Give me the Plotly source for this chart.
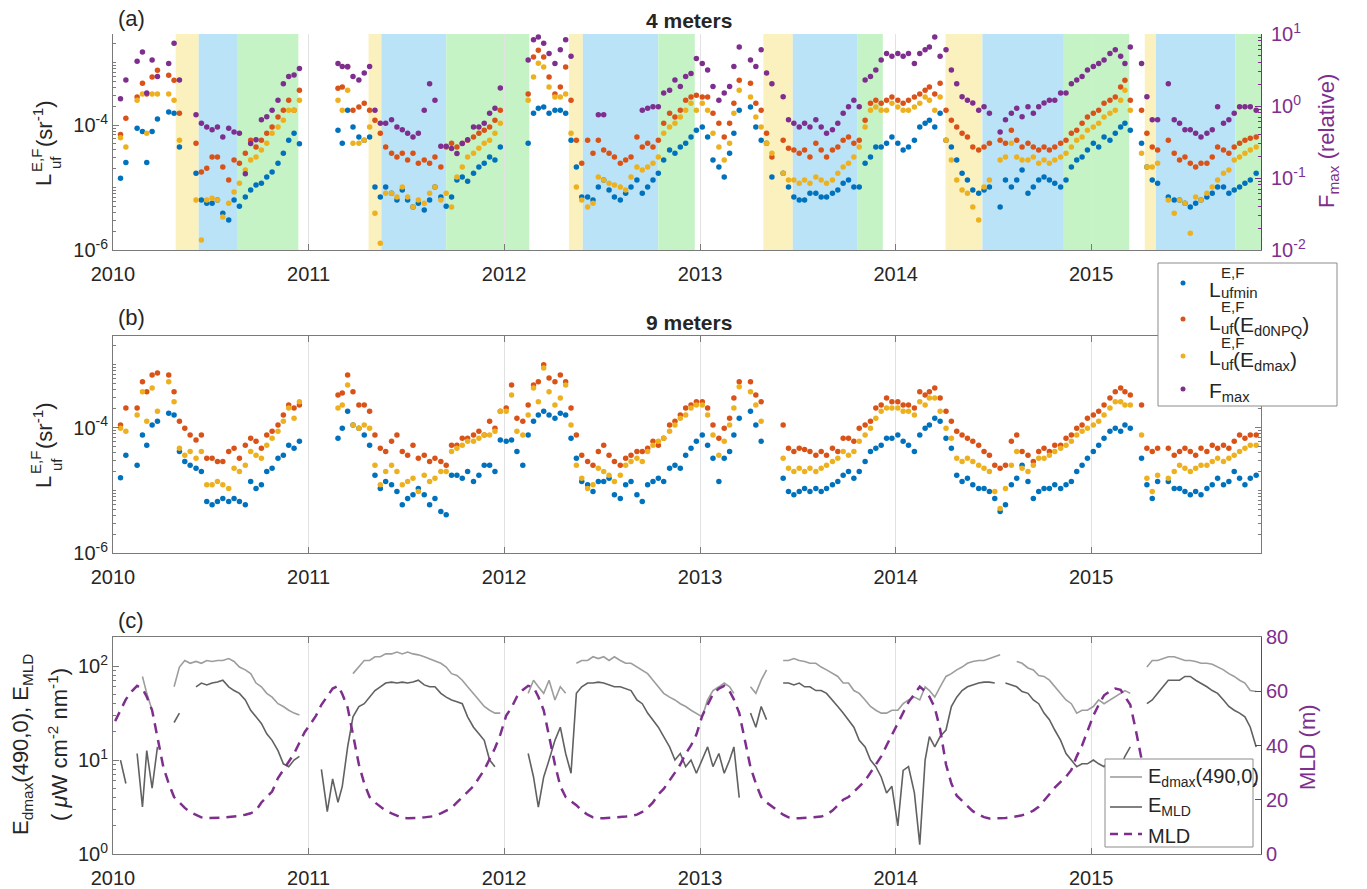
import plotly.graph_objects as go

N = None
# sampling dates: 5th, 15th, 25th of each month, Jan 2010 .. Nov 5 2015
dates = [f"{y}-{m:02d}-{d:02d}" for y in range(2010, 2016) for m in range(1, 13) for d in (5, 15, 25)][:211]

# ---------- panel (a) 4 m : log10 values ----------
lufmin_4m_log10 = [
 N,-4.85,-4.6, N,-4.05,-4.1, -4.6,-4.1,-3.9, N,-3.79,-3.81, -4.35,N,N, -4.77,-5.2,-5.25, -5.25,-5.2,-5.41, -5.52,-5.2,-5.3, -5.15,-5.04,-4.96, -4.93,-4.83,-4.75, -4.61,-4.45,-4.24, -4.13,-4.3,N,
 N,N,N, N,N,-4.08, -4.29,-3.76,-4.03, -4.19,-4.24,-4.19, -4.99,-5.15,-4.99, -5.09,-5.2,-5.04, -5.2,-5.31,-5.25, -5.36,-5.2,-4.99, -5.15,-5.3,-5.15, -4.88,-4.83,-4.9, -4.77,-4.67,-4.61, -4.51,-4.56,-4.35,
 N,N,N, N,-4.29,-3.81, -3.73,-3.71,-3.81, -3.76,-3.76,-3.81, -4.24,-4.67,-5.15, -5.15,-5.2,-4.99, -4.88,-5.04,-5.15, -5.2,-5.09,-4.99, -4.88,-5.09,-4.99, -4.88,-4.77,-4.56, -4.4,-4.45,-4.35, -4.29,-4.19,-4.08,
 -4.03,-4.19,-4.56, -4.67,-4.83,-4.45, -4.13,-3.76,N, -3.71,-4.03,-4.24, -4.29,-4.83,N, -4.77,-4.99,-5.15, -5.2,-5.2,-5.09, -5.09,-5.15,-5.15, -5.09,-5.04,-4.93, -4.88,-4.99,-4.99, -4.61,-4.51,-4.35, -4.35,-4.29,-4.19,
 -4.29,-4.4,-4.35, -4.24,-4.03,-3.97, -3.92,-4.03,-3.81, -4.24,-4.35,-4.56, -4.77,-4.88,-5.04, -5.09,-5.04,-4.99, N,-5.31,-4.88, -4.99,-4.88,-4.72, -5.09,-4.99,-4.88, -4.83,-4.88,-4.93, -4.99,-4.88,-4.67, -4.56,-4.51,-4.4,
 -4.29,-4.35,-4.19, -4.24,-4.13,-4.03, -3.97,-4.08,N, -4.29,-4.67,-4.88, -4.93,N,-5.15, -5.2,-5.2,-5.25, -5.31,-5.25,-5.2, -5.15,-5.09,-4.99, -4.99,-5.09,-5.04, -4.99,-4.93,-4.88, -4.77,
]
luf_d0npq_4m_log10 = [
 N,-4.15,-3.89, N,-3.55,-3.33, -3.5,-3.23,-3.12, N,-3.2,-3.28, -3.81,N,N, -4.29,-4.75,-4.69, -4.51,-4.51,-4.67, -4.88,-4.56,-4.61, -4.45,-4.24,-4.35, -4.24,-4.13,-4.03, -3.87,-3.76,-3.6, -3.76,-3.44,N,
 N,N,N, N,N,-3.41, -3.39,-3.07,-3.76, -3.71,-3.65,-3.76, -3.92,-4.13,-4.35, -4.45,-4.51,-4.45, -4.56,-4.45,-4.61, -4.56,-4.61,-4.51, -4.67,-4.35,-4.29, -4.35,-4.29,-4.24, -4.19,-4.13,-4.08, -4.03,-3.92,-3.76,
 N,N,N, N,-3.5,-2.91, -2.8,-2.91,-3.23, -3.5,-3.39,-3.07, -3.6,-4.24,-4.61, -4.24,-4.45,-4.24, -4.4,-4.45,-4.51, -4.61,-4.56,-4.51, -4.19,-4.35,-4.29, -4.35,-4.24,-3.97, -3.81,-3.87,-3.76, -3.6,-3.55,-3.52,
 -3.55,-3.55,-3.81, -3.97,-4.19,-3.97, -3.65,-3.28,N, -3.33,-3.65,-3.76, -4.13,-4.51,N, -4.24,-4.37,-4.4, -4.45,-4.4,-4.51, -4.29,-4.4,-4.51, -4.4,-4.35,-4.24, -4.19,-4.29,-4.24, -3.92,-3.65,-3.6, -3.65,-3.6,-3.55,
 -3.6,-3.65,-3.6, -3.55,-3.5,-3.44, -3.39,-3.5,-3.33, -3.76,-3.92,-4.03, -4.13,-4.19,-4.35, -4.4,-4.35,-4.29, N,-4.24,-4.29, -4.08,-4.24,-4.35, -4.29,-4.35,-4.4, -4.35,-4.4,-4.35, -4.29,-4.24,-4.13, -4.08,-3.97,-3.87,
 -3.81,-3.76,-3.65, -3.6,-3.55,-3.39, -3.28,-3.6,N, -3.76,-4.13,-4.35, -4.4,N,-4.24, -4.45,-4.56,-4.51, -4.61,-4.67,-4.61, -4.61,-4.51,-4.35, -4.4,-4.45,-4.35, -4.29,-4.24,-4.21, -4.19,
]
luf_edmax_4m_log10 = [
 N,-4.2,-4.35, N,-3.6,-3.5, -4.13,-3.5,-3.5, N,-3.5,-3.6, -4.24,N,N, -5.2,-5.84,-5.2, -5.17,-5.2,-5.47, -5.25,-5.07,-4.93, -4.72,-4.56,-4.51, -4.4,-4.29,-4.13, -4.03,-3.92,-3.76, -3.76,-3.6,N,
 N,N,N, N,N,-3.6, -3.76,-3.44,-4.29, -4.29,-4.24,-4.03, -5.41,-5.89,-5.09, -5.09,-5.15,-4.99, -5.15,-5.31,-5.2, -5.25,-5.09,-4.99, -5.2,-5.09,-5.31, -4.83,-4.67,-4.51, -4.45,-4.37,-4.29, -4.24,-4.13,-3.97,
 N,N,N, N,-3.6,-3.23, -3.01,-3.07,-3.39, -3.55,-3.55,-3.5, -4.13,-4.99,-5.2, -5.31,-5.25,-4.83, -4.88,-4.93,-4.96, -4.99,-5.04,-4.83, -4.67,-4.72,-4.67, -4.61,-4.51,-4.13, -4.03,-3.97,-3.87, -3.76,-3.65,-3.76,
 -3.65,-3.76,-4.13, -4.35,-4.56,-4.29, -3.81,-3.44,N, -3.55,-3.87,-4.03, -4.29,-4.45,N, -4.77,-4.88,-4.88, -4.93,-4.88,-4.93, -4.83,-4.88,-4.93, -4.88,-4.77,-4.67, -4.61,-4.51,-4.35, -4.03,-3.76,-3.71, -3.76,-3.76,-3.65,
 -3.71,-3.76,-3.76, -3.71,-3.65,-3.55, -3.6,-3.76,-3.55, -4.24,-4.56,-4.88, -5.04,-5.09,-5.31, -5.52,-4.99,-4.88, N,-4.56,-4.51, -4.29,-4.51,-4.56, -4.56,-4.51,-4.61, -4.56,-4.61,-4.56, -4.51,-4.45,-4.35, -4.24,-4.19,-4.08,
 -4.03,-3.97,-3.87, -3.81,-3.76,-3.6, -3.44,-3.76,N, -4.45,-4.67,-4.67, -4.61,N,-5.2, -5.41,-5.2,-5.25, -5.73,-5.15,-5.2, -5.09,-4.99,-4.88, -4.77,-4.72,-4.56, -4.51,-4.45,-4.4, -4.35,
]
fmax_4m_log10 = [
 N,0.1,0.36, N,0.62,0.75, 0.18,0.64,0.41, N,0.59,0.87, 0.36,N,N, -0.12,-0.24,-0.29, -0.33,-0.29,-0.43, -0.31,-0.36,-0.38, -0.94,-0.52,-0.47, -0.19,-0.15,-0.06, 0.08,0.31,0.41, 0.43,0.52,N,
 N,N,N, N,N,0.59, 0.55,0.55,0.41, 0.36,0.46,0.55, -0.06,-0.24,-0.24, -0.19,-0.29,-0.33, -0.38,-0.43,-0.38, -0.06,0.31,0.08, -0.56,-0.56,-0.59, -0.66,-0.52,-0.47, -0.29,-0.29,-0.24, -0.1,-0.03,0.25,
 N,N,N, N,0.64,0.92, 0.96,0.87,0.73, 0.59,0.78,0.92, 0.69,N,N, N,N,-0.12, -0.12,N,N, N,N,N, N,-0.06,-0.03, -0.01,-0.01,0.18, 0.22,0.36,0.27, 0.41,0.45,0.66,
 0.59,0.5,0.27, 0.08,0.18,0.27, 0.55,0.82,N, 0.64,0.55,0.78, 0.46,0.31,N, 0.13,-0.19,-0.24, -0.29,-0.24,-0.29, -0.19,-0.29,-0.38, -0.33,-0.24,-0.1, -0.01,0.08,-0.01, 0.36,0.41,0.5, 0.64,0.73,0.69,
 0.73,0.69,0.73, 0.59,0.73,0.78, 0.82,0.96,0.69, 0.78,0.5,0.31, 0.13,0.08,0.04, -0.06,-0.01,-0.1, N,-0.36,-0.19, -0.1,-0.03,-0.15, -0.01,-0.1,-0.01, 0.04,0.08,0.08, 0.18,0.18,0.31, 0.36,0.41,0.5,
 0.55,0.59,0.64, 0.73,0.78,0.69, 0.59,0.82,N, 0.59,0.13,-0.19, -0.19,N,0.31, -0.19,-0.24,-0.33, -0.33,-0.38,-0.43, -0.38,-0.33,-0.01, -0.24,-0.19,-0.1, -0.01,-0.01,-0.01, -0.06,
]

# ---------- panel (b) 9 m ----------
lufmin_9m_log10 = [
 N,-4.8,-4.44, N,-4.6,-4.12, -4.28,-3.96,-3.9, N,-3.77,-3.8, -4.38,-4.54,-4.6, -4.65,-4.7,-5.18, -5.23,-5.18,-5.13, -5.18,-5.13,-5.18, -5.23,-4.86,-4.97, -4.91,-4.7,-4.65, -4.49,-4.44,-4.28, -4.33,-4.22,N,
 N,N,N, N,N,-4.17, -4.01,-3.74,-3.96, -4.01,-4.12,-4.28, -4.76,-4.97,-4.86, -4.91,-5.02,-5.23, -5.13,-5.07,-4.97, -5.07,-5.23,-5.13, -5.34,-5.39,-4.76, -4.76,-4.81,-4.7, -4.86,-4.76,-4.6, -4.6,-4.7,-4.2,
 -4.22,-4.2,-4.38, -4.6,-4.12,-3.9, -3.8,-3.74,-3.8, -3.85,-3.77,-3.8, -4.17,-4.49,-4.86, -4.91,-5.02,-4.86, -4.86,-4.81,-5.07, -5.13,-4.91,-4.86, -5.07,-5.18,-4.91, -4.86,-4.81,-4.86, -4.65,-4.6,-4.65, -4.44,-4.33,-4.22,
 -4.12,-4.28,-4.49, -4.86,-4.49,-4.38, -4.12,-3.85,N, -3.74,-3.96,-4.22, N,N,N, -4.81,-5.02,-5.07, -5.02,-4.97,-5.02, -4.97,-5.02,-4.97, -4.91,-4.86,-4.76, -4.7,-4.81,-4.7, -4.54,-4.38,-4.33, -4.28,-4.17,-4.17,
 -4.12,-4.22,-4.28, -4.38,-4.12,-4.01, -3.96,-3.85,-3.9, -4.17,-4.33,-4.76, -4.86,-4.81,-4.91, -4.97,-4.97,-5.02, -5.13,-5.34,-5.23, -4.91,-4.81,-4.6, -4.86,-5.13,-5.02, -4.97,-4.97,-4.91, -4.97,-4.91,-4.86, -4.7,-4.6,-4.49,
 -4.38,-4.28,-4.17, -4.06,-4.01,-4.06, -3.96,-4.01,N, -4.49,-4.91,-5.13, -4.86,N,-4.86, -4.97,-4.97,-5.02, -5.07,-5.02,-5.07, -4.97,-4.91,-4.81, -4.91,-4.86,-4.7, -4.81,-4.91,-4.81, -4.76,
]
luf_d0npq_9m_log10 = [
 N,-3.96,-3.69, N,-3.69,-3.27, -3.43,-3.16,-3.13, N,-3.16,-3.43, -3.9,-4.01,-4.12, -4.2,-4.12,-4.49, -4.49,-4.54,-4.54, -4.38,-4.33,-4.49, -4.28,-4.17,-4.22, -4.33,-4.12,-4.06, -3.96,-3.8,-3.64, -3.69,-3.64,N,
 N,N,N, N,N,-3.48, -3.45,-3.16,-3.43, -3.64,-3.64,-3.74, -4.12,-4.33,-4.38, -4.22,-4.12,-4.38, -4.44,-4.28,-4.49, -4.44,-4.54,-4.49, -4.54,-4.6,-4.28, -4.28,-4.17,-4.17, -4.12,-4.06,-4.12, -3.9,-4.01,-3.74,
 -3.69,-3.32,-3.85, -3.9,-3.64,-3.32, -3.27,-3.0,-3.21, -3.27,-3.16,-3.27, -3.69,-4.12,-4.44, -4.54,-4.6,-4.38, -4.28,-4.44,-4.54, -4.6,-4.49,-4.44, -4.38,-4.38,-4.33, -4.22,-4.28,-4.17, -3.96,-3.9,-3.8, -3.69,-3.64,-3.59,
 -3.59,-3.69,-3.96, -4.17,-4.01,-3.85, -3.53,-3.27,N, -3.27,-3.48,-3.59, N,N,N, -3.96,-4.33,-4.38, -4.33,-4.35,-4.38, -4.44,-4.38,-4.44, -4.33,-4.38,-4.17, -4.17,-4.22,-4.01, -3.96,-3.9,-3.69, -3.64,-3.53,-3.59,
 -3.59,-3.64,-3.64, -3.69,-3.43,-3.48, -3.43,-3.37,-3.53, -3.74,-3.9,-4.06, -4.12,-4.17,-4.22, -4.28,-4.38,-4.44, -4.6,-4.65,-4.6, -4.22,-4.12,-4.38, -4.44,-4.54,-4.38, -4.33,-4.38,-4.28, -4.28,-4.17,-4.12, -4.01,-3.96,-3.85,
 -3.8,-3.74,-3.64, -3.53,-3.43,-3.37, -3.43,-3.48,N, -3.64,-4.33,-4.38, -4.33,N,-4.33, -4.44,-4.38,-4.33, -4.38,-4.44,-4.33, -4.38,-4.28,-4.33, -4.28,-4.33,-4.22, -4.12,-4.17,-4.12, -4.12,
]
luf_edmax_9m_log10 = [
 N,-4.01,-4.06, N,-3.8,-3.43, -3.9,-3.37,-3.74, N,-3.27,-3.59, -4.33,-4.44,-4.38, -4.49,-4.38,-4.91, -4.91,-4.86,-4.91, -4.97,-4.65,-4.7, -4.6,-4.38,-4.44, -4.49,-4.28,-4.17, -4.06,-3.9,-3.69, -3.85,-3.59,N,
 N,N,N, N,N,-3.69, -3.64,-3.32,-3.96, -4.01,-3.96,-4.01, -4.6,-4.91,-4.7, -4.6,-4.7,-4.91, -4.86,-4.81,-5.02, -4.76,-4.86,-4.81, -4.7,-4.7,-4.38, -4.33,-4.28,-4.22, -4.22,-4.17,-4.12, -4.12,-4.06,-3.74,
 -3.74,-3.48,-4.06, -4.12,-3.8,-3.37, -3.59,-3.05,-3.43, -3.64,-3.53,-3.32, -3.96,-4.6,-4.81, -4.97,-4.91,-4.65, -4.7,-4.76,-4.86, -4.76,-4.6,-4.54, -4.49,-4.54,-4.38, -4.28,-4.22,-4.17, -4.06,-3.96,-3.85, -3.8,-3.69,-3.64,
 -3.64,-3.8,-4.12, -4.44,-4.22,-3.96, -3.69,-3.35,N, -3.43,-3.64,-3.9, N,N,N, -4.49,-4.65,-4.7, -4.65,-4.7,-4.65, -4.7,-4.65,-4.6, -4.54,-4.49,-4.38, -4.44,-4.38,-4.22, -4.12,-4.01,-3.85, -3.74,-3.69,-3.69,
 -3.69,-3.74,-3.74, -3.8,-3.59,-3.64, -3.53,-3.53,-3.74, -4.01,-4.17,-4.49, -4.54,-4.49,-4.54, -4.6,-4.65,-4.7, -5.02,-5.29,-4.97, -4.6,-4.38,-4.65, -4.7,-4.6,-4.49, -4.49,-4.44,-4.38, -4.33,-4.28,-4.22, -4.12,-4.06,-4.01,
 -3.96,-3.9,-3.8, -3.69,-3.59,-3.59, -3.64,-3.64,N, -4.12,-4.81,-5.02, -4.76,N,-4.81, -4.7,-4.6,-4.65, -4.7,-4.65,-4.6, -4.6,-4.54,-4.49, -4.54,-4.49,-4.44, -4.38,-4.33,-4.28, -4.28,
]

# ---------- panel (c) ----------
edmax490_log10 = [
 N,N,N, N,N,1.89, 1.71,1.53,N, N,N,1.78, 1.99,2.06,2.03, 2.05,2.03,2.06, 2.05,2.06,2.06, 2.08,2.05,1.99, 1.96,1.92,1.82, 1.78,1.71,1.67, 1.6,1.57,1.53, 1.5,1.48,N,
 N,N,N, N,N,N, N,N,1.92, 1.99,2.06,2.06, 2.1,2.1,2.13, 2.13,2.15,2.13, 2.15,2.13,2.12, 2.1,2.08,2.06, 2.03,1.99,1.92, 1.9,1.85,1.78, 1.71,1.64,1.57, 1.53,1.5,1.5,
 N,N,N, N,1.71,1.85, 1.78,1.71,1.85, 1.64,1.78,1.71, N,2.03,2.06, 2.06,2.1,2.08, 2.1,2.06,2.1, 2.06,2.03,2.03, 1.99,1.96,1.92, 1.85,1.78,1.71, 1.67,1.64,1.6, 1.57,1.53,1.5,
 1.46,1.64,1.74, 1.78,1.82,1.78, 1.71,N,N, 1.78,1.71,1.85, 1.96,N,N, 2.06,2.06,2.08, 2.06,2.05,2.03, 2.03,1.99,1.96, 1.92,1.89,1.82, 1.82,1.74,1.71, 1.64,1.57,1.53, 1.5,1.5,1.53,
 1.53,1.6,1.64, 1.67,1.64,1.78, 1.74,1.67,1.78, 1.89,1.92,1.96, 1.99,2.03,2.05, 2.06,2.06,2.08, 2.1,2.12,N, N,2.05,2.03, 1.98,1.96,1.9, 1.89,1.85,1.78, 1.71,1.64,1.6, 1.5,1.53,1.53,
 1.57,1.64,1.6, 1.64,1.67,1.71, 1.74,1.71,N, N,1.99,2.06, 2.06,2.08,2.1, 2.1,2.08,2.06, 2.06,2.05,2.03, 2.03,2.02,1.99, 1.96,1.92,1.89, 1.85,1.82,1.74, 1.73,
]
emld_log10 = [
 N,1.0,0.75, N,1.07,0.5, 1.1,0.7,1.14, N,N,1.4, 1.5,N,N, 1.78,1.82,1.8, 1.82,1.83,1.85, 1.78,1.74,1.71, 1.64,1.53,1.46, 1.39,1.28,1.21, 1.1,0.96,0.93, 1.0,1.04,N,
 N,N,0.9, 0.45,0.8,0.55, 0.72,1.14,1.46, 1.57,1.6,1.67, 1.74,1.78,1.82, 1.83,1.82,1.83, 1.82,1.83,1.85, 1.8,1.78,1.78, 1.71,1.67,1.64, 1.62,1.6,1.46, 1.35,1.28,1.21, 1.0,0.93,N,
 N,N,N, N,1.07,0.82, 0.5,0.82,1.0, 1.21,1.35,1.07, 0.86,1.71,1.78, 1.82,1.82,1.83, 1.82,1.8,1.78, 1.78,1.76,1.74, 1.64,1.6,1.5, 1.43,1.35,1.25, 1.14,1.0,1.07, 0.93,1.0,0.86,
 1.0,1.14,0.93, 1.07,0.86,1.0, 1.14,0.6,N, 1.5,1.35,1.57, 1.43,N,N, 1.82,1.82,1.8, 1.82,1.78,1.78, 1.74,1.74,1.71, 1.64,1.57,1.5, 1.43,1.35,1.21, 1.14,1.0,0.93, 0.82,0.65,0.72,
 0.3,0.89,0.93, 0.65,0.1,1.0, 1.25,1.14,1.25, 1.32,1.57,1.67, 1.74,1.78,1.8, 1.82,1.83,1.83, 1.82,N,1.82, 1.8,1.78,1.73, 1.71,1.64,1.6, 1.5,1.43,1.32, 1.21,1.07,1.0, 0.93,0.96,0.96,
 1.0,0.96,0.93, 1.0,1.0,0.93, 1.04,1.14,N, N,1.6,1.64, 1.71,1.78,1.85, 1.85,1.85,1.89, 1.89,1.85,1.82, 1.78,1.74,1.71, 1.64,1.57,1.53, 1.5,1.46,1.35, 1.14,
]
mld_m = [
 49,53,57, 60,62,61, 58,53,43, 32,26,21, 19,17,15.5, 14.5,13.5,13.2, 13.2,13.3,13.4, 13.6,13.8,14, 14.5,15,16, 19,21,23, 28,31,34, 37,41,45,
 48,51,55, 58,61,62, 59,54,44, 33,26,21, 19,17.5,16, 15,14,13.3, 13.2,13.2,13.3, 13.5,13.8,14, 15,16,17, 19,21,23, 25,28,31, 35,39,44,
 51,54,58, 60.5,62,61.5, 58,53,43, 33,25,21, 19.5,18,16, 14.5,13.5,13.2, 13.2,13.3,13.4, 13.6,13.8,14, 14.5,15.5,17, 19,22,24, 27,30,33, 37,40,44,
 51,55,59, 61,62,60, 57,52,42, 32,26,21, 19,17.5,16, 14.5,13.5,13.2, 13.2,13.3,13.4, 13.6,13.8,14.5, 16,18,20, 21,23,25, 27,30,33, 36,40,44,
 48,52,56, 59,61.7,60, 58,54,46, 33,26,21.5, 19.5,17.5,15.8, 14.5,13.6,13.1, 13.1,13.2,13.3, 13.5,13.8,14.3, 15,16,17.4, 19.5,22,24.5, 26.5,28.5,31, 36,40,45,
 51,55,58.5, 60,61,60.5, 58,55,46, 35,27,22, 19.5,17.5,16, 14.5,13.6,13.2, 13.2,13.3,13.4, 13.6,13.8,14.2, 15,16,17.5, 19.5,22,24.5, 26,
]

# seasonal shading periods in panel (a)
yellow_start = ["2010-04-28", "2011-04-23", "2012-05-01", "2013-04-29", "2014-04-04", "2015-04-11"]
blue_start   = ["2010-06-10", "2011-05-17", "2012-05-27", "2013-06-23", "2014-06-12", "2015-05-02"]
green_start  = ["2010-08-22", "2011-09-15", "2012-10-15", "2013-10-21", "2014-11-11", "2015-09-27"]
green_end    = ["2010-12-13", "2012-02-17", "2012-12-22", "2013-12-08", "2015-03-13", "2015-11-14"]

year_ticks = ["2010-01-01", "2011-01-01", "2012-01-01", "2013-01-01", "2014-01-01", "2015-01-01"]
year_labels = ["2010", "2011", "2012", "2013", "2014", "2015"]
x_range = ["2010-01-01", "2015-11-14"]

series = dict(lufmin_4m_log10=lufmin_4m_log10, luf_d0npq_4m_log10=luf_d0npq_4m_log10,
              luf_edmax_4m_log10=luf_edmax_4m_log10, fmax_4m_log10=fmax_4m_log10,
              lufmin_9m_log10=lufmin_9m_log10, luf_d0npq_9m_log10=luf_d0npq_9m_log10,
              luf_edmax_9m_log10=luf_edmax_9m_log10, edmax490_log10=edmax490_log10,
              emld_log10=emld_log10, mld_m=mld_m)
for k, v in series.items():
    assert len(v) == len(dates), (k, len(v), len(dates))

def pw(arr):
    return [None if v is None else 10 ** v for v in arr]

# ---------- styling ----------
# the page body has an 8px margin: the figure is drawn 8px in from the window's corner
OX, OY = 8, 8
W, H = 1359, 881
def px(x): return (x - OX) / W
def py(y): return 1 - (y - OY) / H

FONT = "Liberation Sans, Arial, Helvetica, sans-serif"
TXT = "#262626"
AX = "#7a7a7a"
GRID = "#e2e2e2"
PURPLE = "#7E2F8E"
C_BLUE, C_ORANGE, C_YELLOW = "#0072BD", "#D95319", "#EDB120"
C_LIGHT, C_DARK = "#9d9d9d", "#616161"
SH_Y, SH_B, SH_G = "#FAF1BF", "#BAE3F8", "#C6F3C6"

XD = [px(113), px(1261)]
YA = [py(250), py(34)]
YB = [py(553), py(336)]
YC = [py(854), py(637)]

fig = go.Figure()
MS = 5.5
def dots(y, color, xa, ya):
    fig.add_trace(go.Scatter(x=dates, y=y, mode="markers", xaxis=xa, yaxis=ya,
                             marker=dict(size=MS, color=color, line=dict(width=0)),
                             showlegend=False, hoverinfo="skip"))

dots(pw(lufmin_4m_log10), C_BLUE, "x", "y")
dots(pw(luf_d0npq_4m_log10), C_ORANGE, "x", "y")
dots(pw(luf_edmax_4m_log10), C_YELLOW, "x", "y")
dots(pw(fmax_4m_log10), PURPLE, "x", "y2")
dots(pw(lufmin_9m_log10), C_BLUE, "x2", "y3")
dots(pw(luf_d0npq_9m_log10), C_ORANGE, "x2", "y3")
dots(pw(luf_edmax_9m_log10), C_YELLOW, "x2", "y3")

fig.add_trace(go.Scatter(x=dates, y=pw(edmax490_log10), mode="lines", xaxis="x3", yaxis="y4",
                         line=dict(color=C_LIGHT, width=1.6), showlegend=False, hoverinfo="skip"))
fig.add_trace(go.Scatter(x=dates, y=pw(emld_log10), mode="lines", xaxis="x3", yaxis="y4",
                         line=dict(color=C_DARK, width=1.6), showlegend=False, hoverinfo="skip"))
fig.add_trace(go.Scatter(x=dates, y=mld_m, mode="lines", xaxis="x3", yaxis="y5",
                         line=dict(color=PURPLE, width=2.5, dash="10px,7px"), showlegend=False, hoverinfo="skip"))

tickfont = dict(family=FONT, size=20, color=TXT)
ptickfont = dict(family=FONT, size=20, color=PURPLE)

def xax(anchor, mirror):
    return dict(type="date", range=x_range, domain=XD, anchor=anchor, tickmode="array",
                tickvals=year_ticks, ticktext=year_labels, ticks="inside", ticklen=6,
                tickcolor=AX, showline=True, linecolor=AX, linewidth=1, mirror=mirror,
                showgrid=True, gridcolor=GRID, gridwidth=1, zeroline=False, tickfont=tickfont,
                automargin=False, ticklabelstandoff=6)

def logminor(e0, e1):
    return [k * 10.0 ** e for e in range(e0, e1) for k in range(1, 10) if not (k == 1 and e % 2 == 0)]

def lyax(domain, anchor, mirror):
    return dict(type="log", range=[-6, -2.54], domain=domain, anchor=anchor, tickmode="array",
                tickvals=[1e-6, 1e-4], ticktext=["10<sup>-6</sup>", "10<sup>-4</sup>"],
                ticks="inside", ticklen=6, tickcolor=AX, showline=True, linecolor=AX, linewidth=1,
                mirror=mirror, showgrid=False, zeroline=False, tickfont=tickfont, automargin=False,
                minor=dict(tickmode="array", tickvals=logminor(-6, -2), ticks="inside", ticklen=3,
                           tickcolor=AX, showgrid=False))

fig.update_layout(
    width=W, height=H, margin=dict(l=0, r=0, t=0, b=0, pad=0, autoexpand=False),
    paper_bgcolor="white", plot_bgcolor="white",
    font=dict(family=FONT, color=TXT), showlegend=False,
    xaxis=xax("y", False),
    xaxis2=xax("y3", "ticks"),
    xaxis3=xax("y4", "ticks"),
    yaxis=lyax(YA, "x", False),
    yaxis2=dict(type="log", range=[-2, 1], overlaying="y", side="right", anchor="x",
                tickmode="array", tickvals=[0.01, 0.1, 1, 10],
                ticktext=["10<sup>-2</sup>", "10<sup>-1</sup>", "10<sup>0</sup>", "10<sup>1</sup>"],
                ticks="inside", ticklen=6, tickcolor=PURPLE, showline=True, linecolor=PURPLE,
                showgrid=False, zeroline=False, tickfont=ptickfont, automargin=False,
                ticklabelstandoff=5,
                minor=dict(tickmode="array", tickvals=[k * 10.0 ** e for e in (-2, -1, 0) for k in range(2, 10)],
                           ticks="inside", ticklen=3, tickcolor=PURPLE, showgrid=False)),
    yaxis3=lyax(YB, "x2", "ticks"),
    yaxis4=dict(type="log", range=[0, 2.31], domain=YC, anchor="x3", tickmode="array",
                tickvals=[1, 10, 100], ticktext=["10<sup>0</sup>", "10<sup>1</sup>", "10<sup>2</sup>"],
                ticks="inside", ticklen=6, tickcolor=AX, showline=True, linecolor=AX,
                showgrid=False, zeroline=False, tickfont=tickfont, automargin=False,
                minor=dict(tickmode="array", tickvals=[k * 10.0 ** e for e in (0, 1, 2) for k in range(2, 10)],
                           ticks="inside", ticklen=3, tickcolor=AX, showgrid=False)),
    yaxis5=dict(range=[0, 80], overlaying="y4", side="right", anchor="x3", tickmode="array",
                tickvals=[0, 20, 40, 60, 80], ticks="inside", ticklen=6, tickcolor=PURPLE,
                showline=True, linecolor=PURPLE, showgrid=False, zeroline=False, tickfont=ptickfont,
                automargin=False),
)

shapes = []
for s, e, c in [(yellow_start, blue_start, SH_Y), (blue_start, green_start, SH_B), (green_start, green_end, SH_G)]:
    for a, b in zip(s, e):
        shapes.append(dict(type="rect", xref="x", yref="y domain", x0=a, x1=b, y0=0, y1=1,
                           fillcolor=c, line=dict(width=0), layer="below"))

# legend (a)
shapes.append(dict(type="rect", xref="paper", yref="paper", x0=px(1158), x1=px(1337), y0=py(406), y1=py(263),
                   fillcolor="white", line=dict(color="#8c8c8c", width=1), layer="above"))
for cy, c in [(283, C_BLUE), (319, C_ORANGE), (356, C_YELLOW), (389, PURPLE)]:
    shapes.append(dict(type="circle", xref="paper", yref="paper", x0=px(1183 - 2.5), x1=px(1183 + 2.5),
                       y0=py(cy + 2.5), y1=py(cy - 2.5), fillcolor=c, line=dict(width=0), layer="above"))
# legend (c)
shapes.append(dict(type="rect", xref="paper", yref="paper", x0=px(1105), x1=px(1253), y0=py(847), y1=py(759),
                   fillcolor="white", line=dict(color="#8c8c8c", width=1), layer="above"))
for cy, c, d, w in [(777, C_LIGHT, "solid", 1.6), (807, C_DARK, "solid", 1.6), (834, PURPLE, "8px,6px", 2.5)]:
    shapes.append(dict(type="line", xref="paper", yref="paper", x0=px(1110), x1=px(1142), y0=py(cy), y1=py(cy),
                       line=dict(color=c, width=w, dash=d), layer="above"))
fig.update_layout(shapes=shapes)

anns = []
def ann(text, x, y, size, color=TXT, angle=0, xanchor="center", yanchor="middle"):
    anns.append(dict(text=text, x=px(x), y=py(y), xref="paper", yref="paper", showarrow=False,
                     textangle=angle, xanchor=xanchor, yanchor=yanchor,
                     font=dict(family=FONT, size=size, color=color)))

ann("(a)", 131, 18, 22)
ann("(b)", 131, 318, 22)
ann("(c)", 131, 620, 22)
ann("<b>4 meters</b>", 689, 20, 21)
ann("<b>9 meters</b>", 689, 322, 21)

for dy in (0, 302):
    ann("L", 43, 180 + dy, 22, angle=-90)
    ann("E,F", 36, 161 + dy, 15, angle=-90)
    ann("uf", 56, 163 + dy, 15, angle=-90)
    ann("(sr<sup>-1</sup>)", 43, 124 + dy, 22, angle=-90)

ann("E<sub>dmax</sub>(490,0), E<sub>MLD</sub>", 22, 745, 22, angle=-90)
ann("( <i>\u03bc</i>W cm<sup>-2</sup> nm<sup>-1</sup>)", 58, 745, 22, angle=-90)
ann("F<sub>max</sub> (relative)", 1328, 141, 22, color=PURPLE, angle=-90)
ann("MLD (m)", 1307, 747, 22, color=PURPLE, angle=-90)

# legend (a) texts
LS, SS = 21, 15
ann("L", 1207, 289, LS, xanchor="left")
ann("E,F", 1219, 272, SS, xanchor="left")
ann("ufmin", 1219, 292, SS, xanchor="left")
ann("L", 1207, 322, LS, xanchor="left")
ann("E,F", 1219, 306, SS, xanchor="left")
ann("uf", 1219, 328, SS, xanchor="left")
ann("(E<sub>d0NPQ</sub>)", 1231, 326, LS, xanchor="left")
ann("L", 1207, 357, LS, xanchor="left")
ann("E,F", 1219, 343, SS, xanchor="left")
ann("uf", 1219, 364, SS, xanchor="left")
ann("(E<sub>dmax</sub>)", 1231, 361, LS, xanchor="left")
ann("F<sub>max</sub>", 1207, 392, LS, xanchor="left")
# legend (c) texts
ann("E<sub>dmax</sub>(490,0)", 1146, 777, 20, xanchor="left")
ann("E<sub>MLD</sub>", 1146, 806, 20, xanchor="left")
ann("MLD", 1146, 836, 20, xanchor="left")

fig.update_layout(annotations=anns)
fig.write_html("out.html")
